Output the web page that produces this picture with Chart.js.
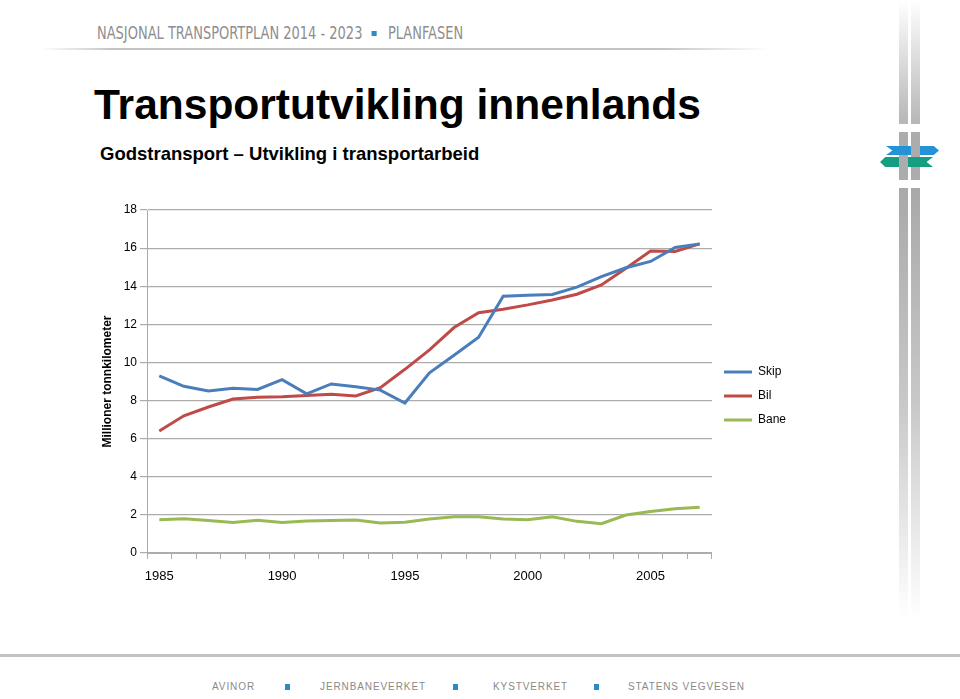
<!DOCTYPE html>
<html>
<head>
<meta charset="utf-8">
<script src="https://cdn.jsdelivr.net/npm/chart.js@4/dist/chart.umd.min.js"></script>
<style>
  body { margin: 0; background: #fff; width: 960px; height: 699px; overflow: hidden; position: relative; font-family: "Liberation Sans", Arial, sans-serif; }
  .abs { position: absolute; }
  #head { left: 97px; top: 25px; font-family: "DejaVu Sans Condensed", "DejaVu Sans", sans-serif; font-size: 17px; line-height: 17px; color: #8e8e8e; white-space: nowrap; transform: scaleX(0.85); transform-origin: 0 0; }
  .sq { display: inline-block; width: 6px; height: 5px; background: #2b8cc4; vertical-align: middle; margin: 0 13px 2px 11px; }
  #headline { left: 40px; top: 48px; width: 730px; height: 2px; background: linear-gradient(to right, rgba(190,190,190,0), #c4c4c4 10%, #c4c4c4 85%, rgba(200,200,200,0)); }
  #title { left: 94px; top: 84px; font-size: 42.5px; line-height: 42px; font-weight: bold; color: #000; white-space: nowrap; }
  #sub { left: 100px; top: 145px; font-size: 18.5px; line-height: 18px; font-weight: bold; color: #000; white-space: nowrap; }
  #footline { left: 0; top: 654px; width: 960px; height: 3px; background: #c2c2c2; }
  .foot { top: 682px; font-size: 10px; line-height: 10px; letter-spacing: 0.9px; color: #8a8a8a; white-space: nowrap; }
  .fsq { top: 684px; width: 5px; height: 6px; background: #2b8cc4; }
  .bar { width: 9px; }
  #wrap { left: 90px; top: 195px; width: 706px; height: 400px; }
</style>
</head>
<body>
<div id="head" class="abs">NASJONAL TRANSPORTPLAN 2014 - 2023<span class="sq"></span>PLANFASEN</div>
<div id="headline" class="abs"></div>
<div id="title" class="abs">Transportutvikling innenlands</div>
<div id="sub" class="abs">Godstransport – Utvikling i transportarbeid</div>

<!-- right-hand decoration -->
<div class="abs bar" style="left:899px;top:0;height:124px;background:linear-gradient(#fff,#b6b6b8)"></div>
<div class="abs bar" style="left:911px;top:0;height:124px;background:linear-gradient(#fff,#b6b6b8)"></div>
<div class="abs bar" style="left:899px;top:132px;height:48px;background:#acacae"></div>
<div class="abs bar" style="left:911px;top:132px;height:48px;background:#acacae"></div>
<div class="abs bar" style="left:899px;top:188px;height:430px;background:linear-gradient(#a9a9ab,#c8c8ca 50%,#fff)"></div>
<div class="abs bar" style="left:911px;top:188px;height:430px;background:linear-gradient(#a9a9ab,#c8c8ca 50%,#fff)"></div>
<div class="abs" style="left:886px;top:146px;width:53px;height:9px;background:#2392d6;clip-path:polygon(0 0,90% 0,100% 50%,90% 100%,0 100%,12% 50%)"></div>
<div class="abs" style="left:911px;top:146px;width:9px;height:9px;background:#acacae"></div>
<div class="abs" style="left:880px;top:157px;width:53px;height:10px;background:#169e82;clip-path:polygon(10% 0,100% 0,88% 50%,100% 100%,10% 100%,0 50%)"></div>
<div class="abs" style="left:899px;top:157px;width:9px;height:10px;background:#acacae"></div>

<div id="wrap" class="abs"><canvas id="transportChart" width="706" height="400"></canvas></div>

<div id="footline" class="abs"></div>
<div class="abs foot" style="left:212px">AVINOR</div>
<div class="abs fsq" style="left:285px"></div>
<div class="abs foot" style="left:320px">JERNBANEVERKET</div>
<div class="abs fsq" style="left:453px"></div>
<div class="abs foot" style="left:493px">KYSTVERKET</div>
<div class="abs fsq" style="left:594px"></div>
<div class="abs foot" style="left:628px">STATENS VEGVESEN</div>

<script>
// År på x-aksen
const years = ['1985', '1986', '1987', '1988', '1989', '1990', '1991', '1992', '1993', '1994', '1995',
  '1996', '1997', '1998', '1999', '2000', '2001', '2002', '2003', '2004', '2005', '2006', '2007'];

// Millioner tonnkilometer, lest av figuren
const skip = [9.3, 8.75, 8.5, 8.65, 8.58, 9.1, 8.35, 8.87, 8.73, 8.55, 7.87,
  9.46, 10.38, 11.32, 13.48, 13.53, 13.57, 13.95, 14.5, 14.97, 15.3, 16.04, 16.22];
const bil = [6.4, 7.2, 7.66, 8.08, 8.17, 8.2, 8.26, 8.33, 8.24, 8.68, 9.64,
  10.66, 11.83, 12.61, 12.79, 13.02, 13.28, 13.58, 14.07, 14.94, 15.85, 15.82, 16.22];
const bane = [1.74, 1.8, 1.71, 1.6, 1.72, 1.6, 1.68, 1.7, 1.73, 1.57, 1.62,
  1.78, 1.9, 1.9, 1.79, 1.74, 1.9, 1.66, 1.54, 1.99, 2.18, 2.32, 2.4];

const yMin = 0;
const yMax = 18;
const yStep = 2;

const tickFont = { family: "'Liberation Sans', Arial, sans-serif", size: 12 };
const gridColor = '#acacac';

document.addEventListener('DOMContentLoaded', function () {
    const ctx = document.getElementById('transportChart');
    new Chart(ctx, {
        type: 'line',
        data: {
            labels: years,
            datasets: [
                { label: 'Skip', data: skip, borderColor: '#4a7ebb', backgroundColor: '#4a7ebb', borderWidth: 3 },
                { label: 'Bil', data: bil, borderColor: '#be4b48', backgroundColor: '#be4b48', borderWidth: 3 },
                { label: 'Bane', data: bane, borderColor: '#98b954', backgroundColor: '#98b954', borderWidth: 3 }
            ]
        },
        options: {
            responsive: false,
            animation: false,
            layout: { padding: { top: 15, right: 0, bottom: 13, left: 0 } },
            elements: {
                line: { tension: 0 },
                point: { radius: 0, hoverRadius: 0 }
            },
            plugins: {
                tooltip: { enabled: false },
                legend: {
                    position: 'right',
                    labels: {
                        usePointStyle: true,
                        pointStyle: 'line',
                        pointStyleWidth: 28,
                        padding: 12,
                        color: '#000',
                        font: tickFont
                    }
                }
            },
            scales: {
                x: {
                    offset: true,
                    afterFit: function (scale) { scale.height = 29; },
                    grid: { offset: true, drawOnChartArea: false, tickLength: 6, color: gridColor },
                    border: { color: gridColor },
                    ticks: {
                        autoSkip: false,
                        maxRotation: 0,
                        padding: 10,
                        color: '#000',
                        font: { family: tickFont.family, size: 13 },
                        callback: function (value) {
                            const label = this.getLabelForValue(value);
                            return Number(label) % 5 === 0 ? label : '';
                        }
                    }
                },
                y: {
                    min: yMin,
                    max: yMax,
                    afterFit: function (scale) { scale.width = 57; },
                    grid: { color: gridColor, tickLength: 7, lineWidth: 1.2 },
                    border: { color: gridColor },
                    ticks: { stepSize: yStep, padding: 3, color: '#000', font: tickFont },
                    title: {
                        display: true,
                        text: 'Millioner tonnkilometer',
                        color: '#000',
                        padding: { top: 10, bottom: 0 },
                        font: { family: tickFont.family, size: 12, weight: 'bold' }
                    }
                }
            }
        }
    });
});
</script>
</body>
</html>
